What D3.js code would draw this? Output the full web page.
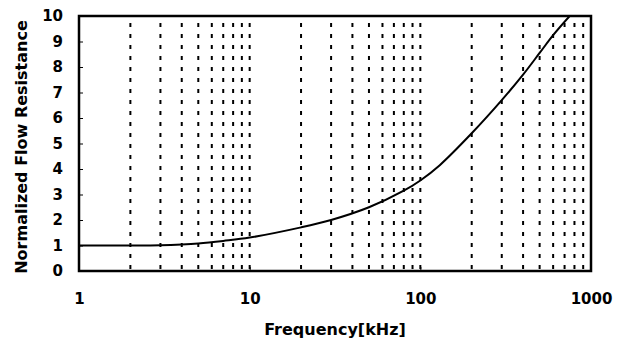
<!DOCTYPE html>
<html>
<head>
<meta charset="utf-8">
<script src="https://d3js.org/d3.v7.min.js"></script>
<style>
  body { margin: 0; background: #fff; }
  text { font-family: "DejaVu Sans", sans-serif; font-weight: bold; fill: #000; }
</style>
</head>
<body>
<svg id="chart" width="622" height="343"></svg>
<script>
// frequency in kHz and normalized flow resistance
let freq = [1, 2, 3, 4, 5, 7, 10, 20, 30, 50, 80, 100, 130, 200, 300, 400, 500, 600, 750];
let resistance = [1.0, 1.0, 1.01, 1.04, 1.08, 1.18, 1.31, 1.71, 2.0, 2.5, 3.15, 3.55, 4.15, 5.4, 6.7, 7.7, 8.55, 9.25, 10.0];

let xTicks = [1, 10, 100, 1000];
let yTicks = [0, 1, 2, 3, 4, 5, 6, 7, 8, 9, 10];
let gridValues = [2, 3, 4, 5, 6, 7, 8, 9, 10, 20, 30, 40, 50, 60, 70, 80, 90, 100,
                  200, 300, 400, 500, 600, 700, 800, 900];

let plotLeft = 79, plotRight = 591, plotTop = 16, plotBottom = 271;

let svg = d3.select("#chart");

let xScale = d3.scaleLog()
    .domain([1, 1000])
    .range([plotLeft, plotRight]);
let yScale = d3.scaleLinear()
    .domain([0, 10])
    .range([plotBottom, plotTop]);

// dotted vertical grid
svg.append("g").selectAll("line")
    .data(gridValues)
    .enter().append("line")
    .attr("x1", d => xScale(d))
    .attr("x2", d => xScale(d))
    .attr("y1", plotTop + 7)
    .attr("y2", plotBottom)
    .attr("stroke", "#000")
    .attr("stroke-width", 2)
    .attr("stroke-dasharray", "4,7");

// axes
let xAxis = d3.axisBottom(xScale)
    .tickValues(xTicks)
    .tickFormat(d3.format("d"))
    .tickSizeInner(-4)
    .tickSizeOuter(0)
    .tickPadding(22);
let gx = svg.append("g")
    .attr("transform", "translate(0," + plotBottom + ")")
    .call(xAxis);
gx.select(".domain").remove();
gx.selectAll("text").style("font-size", "15px");

let yAxis = d3.axisLeft(yScale)
    .tickValues(yTicks)
    .tickSizeInner(-4)
    .tickSizeOuter(0)
    .tickPadding(16);
let gy = svg.append("g")
    .attr("transform", "translate(" + plotLeft + ",0)")
    .call(yAxis);
gy.select(".domain").remove();
gy.selectAll("text").style("font-size", "15px");
svg.selectAll("g").attr("font-family", null).attr("font-size", null);

// curve
svg.append("clipPath").attr("id", "plotClip")
    .append("rect")
    .attr("x", plotLeft).attr("y", plotTop)
    .attr("width", plotRight - plotLeft).attr("height", plotBottom - plotTop);

let lineGen = d3.line()
    .x((d, i) => xScale(freq[i]))
    .y(d => yScale(d))
    .curve(d3.curveCatmullRom.alpha(0.5));

svg.append("path")
    .attr("clip-path", "url(#plotClip)")
    .attr("d", lineGen(resistance))
    .attr("fill", "none")
    .attr("stroke", "#000")
    .attr("stroke-width", 2);

// frame
svg.append("rect")
    .attr("x", plotLeft).attr("y", plotTop)
    .attr("width", plotRight - plotLeft).attr("height", plotBottom - plotTop)
    .attr("fill", "none")
    .attr("stroke", "#000")
    .attr("stroke-width", 2.5);

// titles
svg.append("text")
    .attr("x", (plotLeft + plotRight) / 2)
    .attr("y", 335)
    .attr("text-anchor", "middle")
    .style("font-size", "16px")
    .text("Frequency[kHz]");

svg.append("text")
    .attr("transform", "translate(27,147) rotate(-90)")
    .attr("text-anchor", "middle")
    .style("font-size", "16px")
    .text("Normalized Flow Resistance");
</script>
</body>
</html>
